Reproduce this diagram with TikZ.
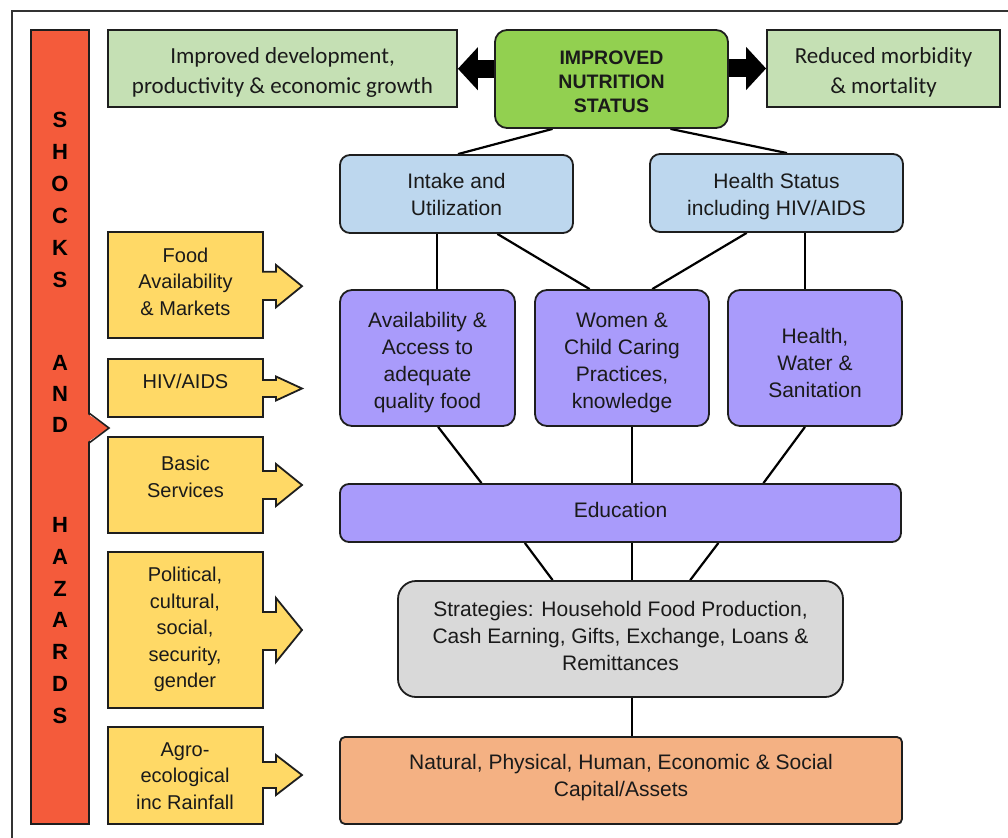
\documentclass[tikz,border=0pt]{standalone}
\usepackage{fontspec}
\setmainfont{Liberation Sans}
\newfontfamily\cali{Carlito}
\usetikzlibrary{calc,arrows.meta,backgrounds}
\definecolor{lgr}{HTML}{C5E0B4}
\definecolor{cgr}{HTML}{92D050}
\definecolor{lbl}{HTML}{BDD7EE}
\definecolor{pur}{HTML}{A99BFB}
\definecolor{gry}{HTML}{D9D9D9}
\definecolor{org}{HTML}{F4B183}
\definecolor{yel}{HTML}{FFD966}
\definecolor{redbar}{HTML}{F45B3B}
\definecolor{edgec}{HTML}{1E1E1E}
\definecolor{txt}{HTML}{1A1A1A}
\newcommand\yarr[6]{%
  \draw[ybox] (108,#1) -- (263,#1) -- (263,#3) -- (276,#3) -- (276,#5) -- (302,{(#5+#6)/2}) -- (276,#6) -- (276,#4) -- (263,#4) -- (263,#2) -- (108,#2) -- cycle;}
\begin{document}
\begin{tikzpicture}[x=1pt,y=-1pt,
  bx/.style={draw=edgec, line width=1.8pt, inner sep=0pt},
  tx/.style={align=center, text=txt, inner sep=0pt, font=\fontsize{21}{27}\selectfont},
  ctx/.style={align=center, text=txt, inner sep=0pt, font=\cali\fontsize{23}{30}\selectfont},
  ybox/.style={draw=edgec, line width=1.8pt, fill=yel, line join=miter},
  ytext/.style={align=center, text=txt, inner sep=0pt, font=\fontsize{20}{26.5}\selectfont},
  letters/.style={align=center, text=black, inner sep=0pt},
  conn/.style={line width=2.2pt, black},
  bigarrow/.style={line width=18pt, black, -{Triangle[length=20pt,width=42pt]}}]
\useasboundingbox (0,0) rectangle (1008,837);

% top boxes
\node[bx, fill=lgr, minimum width=349pt, minimum height=77pt] (lg) at (282.5,68.75) {};
\node[ctx] (lgt) at ($(lg)+(0,4)$) {Improved development,\\productivity \& economic growth};
\node[bx, fill=cgr, rounded corners=12pt, minimum width=233pt, minimum height=98pt] (ns) at (611.5,79) {};
\node[tx, font=\bfseries\fontsize{19.5}{24}\selectfont] (nst) at ($(ns)+(0,3)$) {IMPROVED\\NUTRITION\\STATUS};
\node[bx, fill=lgr, minimum width=233pt, minimum height=77pt] (rg) at (883.5,68.5) {};
\node[ctx] (rgt) at ($(rg)+(0,4)$) {Reduced morbidity\\\& mortality};

% blue
\node[bx, fill=lbl, rounded corners=10pt, minimum width=233pt, minimum height=78pt] (int) at (456.5,194) {};
\node[tx] (intt) at (int) {Intake and\\Utilization};
\node[bx, fill=lbl, rounded corners=10pt, minimum width=253pt, minimum height=78pt] (hs) at (776.5,193) {};
\node[tx] (hst) at ($(hs)+(0,4)$) {Health Status\\including HIV/AIDS};

% purple
\node[bx, fill=pur, rounded corners=12pt, minimum width=175pt, minimum height=136pt] (av) at (427.5,358) {};
\node[tx] (avt) at ($(av)+(0,4.5)$) {Availability \&\\Access to\\adequate\\quality food};
\node[bx, fill=pur, rounded corners=12pt, minimum width=174pt, minimum height=136pt] (wo) at (622,358) {};
\node[tx] (wot) at ($(wo)+(0,4.5)$) {Women \&\\Child Caring\\Practices,\\knowledge};
\node[bx, fill=pur, rounded corners=12pt, minimum width=174pt, minimum height=136pt] (he) at (815,358) {};
\node[tx] (het) at ($(he)+(0,4.5)$) {Health,\\Water \&\\Sanitation};
\node[bx, fill=pur, rounded corners=9pt, minimum width=561pt, minimum height=58pt] (ed) at (620.5,513) {};
\node[tx] (edt) at ($(ed)+(0,-3)$) {Education};

% strategies and assets
\node[bx, fill=gry, rounded corners=18pt, minimum width=445pt, minimum height=116pt] (st) at (620.5,639) {};
\node[tx] (stt) at ($(st)+(0,-3)$) {Strategies: Household Food Production,\\Cash Earning, Gifts, Exchange, Loans \&\\Remittances};
\node[bx, fill=org, rounded corners=5pt, minimum width=562pt, minimum height=87pt] (ca) at (621,780.5) {};
\node[tx] (cat) at ($(ca)+(0,-3)$) {Natural, Physical, Human, Economic \& Social\\Capital/Assets};

% shocks bar
\node[draw=edgec, line width=1.6pt, fill=redbar, minimum width=58pt, minimum height=794pt, inner sep=0pt] (rb) at (60,427) {};
\fill[redbar] (86,413) -- (109,428) -- (86,443) -- cycle;
\draw[edgec, line width=1.6pt, line join=miter] (89,413) -- (109,428) -- (89,443);
\node[letters, font=\bfseries\fontsize{22}{32}\selectfont] (w1) at (60,200) {S\\H\\O\\C\\K\\S};
\node[letters, font=\bfseries\fontsize{22}{31}\selectfont] (w2) at (60,394) {A\\N\\D};
\node[letters, font=\bfseries\fontsize{22}{31.8}\selectfont] (w3) at (60,620.5) {H\\A\\Z\\A\\R\\D\\S};

% yellow factor arrows
\yarr{232}{338}{271.7}{300}{265}{307.3}
\node[ytext] (y1) at (185.5,281.7) {Food\\Availability\\\& Markets};
\yarr{359}{417}{380}{397}{376.5}{400.5}
\node[ytext] (y2) at (185.5,381.5) {HIV/AIDS};
\yarr{437}{533}{471}{499}{464}{506}
\node[ytext] (y3) at (185.5,477) {Basic\\Services};
\yarr{552}{708}{612}{650}{598}{662}
\node[ytext] (y4) at (185,629.5) {Political,\\cultural,\\social,\\security,\\gender};
\yarr{727}{824}{762}{788}{755}{795}
\node[ytext] (y5) at (185,776) {Agro-\\ecological\\inc Rainfall};

\begin{pgfonlayer}{background}
\fill[white] (0,0) rectangle (1008,837);
\draw[line width=1.6pt, black!80] (12,845) -- (12,11) -- (1015,11);
\draw[bigarrow] (ns.west |- lg.east) -- (lg.east);
\draw[bigarrow] (ns.east |- rg.west) -- (rg.west);
% connectors
\draw[conn] ($(ns.south west)!0.249!(ns.south east)$) -- ($(int.north)+(1.5,0)$);
\draw[conn] ($(ns.south west)!0.751!(ns.south east)$) -- ($(hs.north)+(10.5,0)$);
\draw[conn] ($(int.south west)!0.416!(int.south east)$) coordinate (p1) -- (p1 |- av.north);
\draw[conn] ($(int.south west)!0.674!(int.south east)$) -- ($(wo.north west)!0.316!(wo.north east)$);
\draw[conn] ($(hs.south west)!0.383!(hs.south east)$) -- ($(wo.north west)!0.672!(wo.north east)$);
\draw[conn] ($(hs.south west)!0.613!(hs.south east)$) coordinate (p2) -- (p2 |- he.north);
\draw[conn] ($(av.south west)!0.56!(av.south east)$) -- ($(ed.north west)!0.253!(ed.north east)$);
\draw[conn] ($(wo.south west)!0.557!(wo.south east)$) coordinate (p3) -- (p3 |- ed.north);
\draw[conn] ($(he.south west)!0.443!(he.south east)$) -- ($(ed.north west)!0.754!(ed.north east)$);
\draw[conn] ($(ed.south west)!0.33!(ed.south east)$) -- ($(st.north west)!0.348!(st.north east)$);
\draw[conn] (p3 |- ed.south) coordinate (p4) -- (p4 |- st.north);
\draw[conn] ($(ed.south west)!0.674!(ed.south east)$) -- ($(st.north west)!0.656!(st.north east)$);
\draw[conn] (p3 |- st.south) coordinate (p5) -- (p5 |- ca.north);
\end{pgfonlayer}
\end{tikzpicture}
\end{document}
